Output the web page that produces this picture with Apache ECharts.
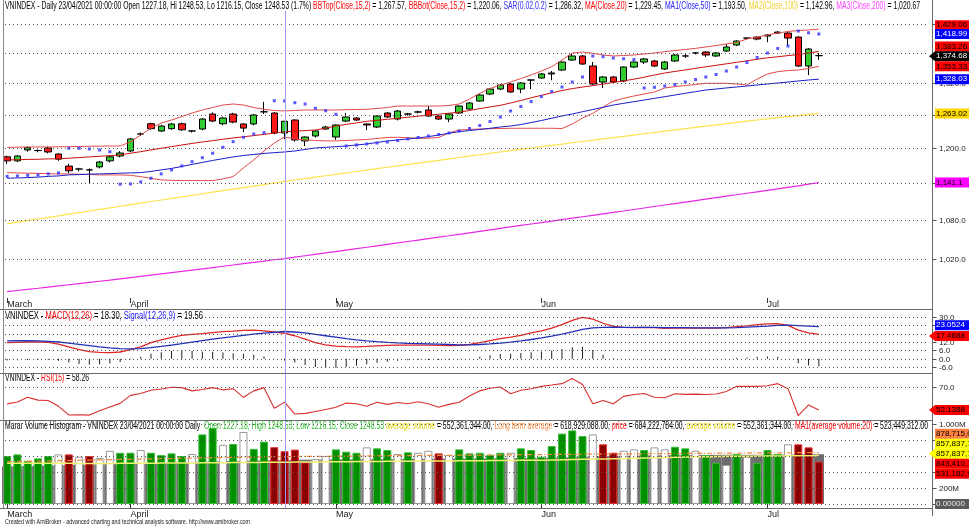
<!DOCTYPE html>
<html><head><meta charset="utf-8">
<script src="https://cdn.jsdelivr.net/npm/echarts@6.0.0/dist/echarts.min.js"></script>
<style>html,body{margin:0;padding:0;background:#fff}#c{width:969px;height:528px}</style>
</head><body><div id="c"></div>
<script>
// ---------------- DATA ----------------
const dates = ['2021-03-16','2021-03-17','2021-03-18','2021-03-19','2021-03-22','2021-03-23','2021-03-24','2021-03-25','2021-03-26','2021-03-29','2021-03-30','2021-03-31',
'2021-04-01','2021-04-02','2021-04-05','2021-04-06','2021-04-07','2021-04-08','2021-04-09','2021-04-12','2021-04-13','2021-04-14','2021-04-15','2021-04-16','2021-04-19','2021-04-20','2021-04-22','2021-04-23','2021-04-26','2021-04-27','2021-04-28','2021-04-29',
'2021-05-04','2021-05-05','2021-05-06','2021-05-07','2021-05-10','2021-05-11','2021-05-12','2021-05-13','2021-05-14','2021-05-17','2021-05-18','2021-05-19','2021-05-20','2021-05-21','2021-05-24','2021-05-25','2021-05-26','2021-05-27','2021-05-28','2021-05-31',
'2021-06-01','2021-06-02','2021-06-03','2021-06-04','2021-06-07','2021-06-08','2021-06-09','2021-06-10','2021-06-11','2021-06-14','2021-06-15','2021-06-16','2021-06-17','2021-06-18','2021-06-21','2021-06-22','2021-06-23','2021-06-24','2021-06-25','2021-06-28','2021-06-29','2021-06-30',
'2021-07-01','2021-07-02','2021-07-05','2021-07-06','2021-07-07','2021-07-08'];
const monthNames = {'03':'March','04':'April','05':'May','06':'Jun','07':'Jul'};

const opens = [1185,1178,1197,1196,1200.5,1190,1169,1164,1162.5,1167.6,
 1178,1186.5,1195.3,1225.4,1244,1230.7,1235,1244,1230.8,1234.4,
 1261.8,1244,1261.8,1243.5,1243.5,1265.9,1263.7,1227.18,1250.8,1213,
 1221.8,1234.4,1220,1248.9,1254.5,1243.5,1238,1263.7,1252.6,1261.8,
 1265.6,1269.3,1258.1,1252.6,1263.7,1271.1,1286.1,1299.4,1309,1318.6,
 1309,1326.4,1330.3,1338.2,1346,1365.9,1374,1353.9,1322.5,1332.3,
 1324.5,1351.9,1361.9,1363.9,1348,1363.9,1374,1380,1382,1374,
 1384,1396.3,1410.6,1412.7,1414.8,1423,1421,1412.7,1353.9,1374.68];
const closes = [1178,1186.5,1201,1196,1193.5,1181,1161,1164,1162.5,1176,
 1185,1191.7,1216.5,1225.4,1235,1239.8,1243.5,1233,1230.8,1252.6,
 1248.9,1254.5,1247,1236,1260,1265.9,1227.2,1248.53,1214.7,1220,
 1230.8,1238,1241.7,1256.3,1250.8,1241.7,1258.1,1256.3,1267.4,1261.8,
 1265.6,1258.1,1252.6,1261.8,1276.7,1282.4,1297.5,1309,1316.7,1303.3,
 1320.6,1326.4,1338.2,1340.2,1361.9,1374,1357.9,1318.6,1332.3,1322.5,
 1352,1361.9,1368,1353.9,1361.9,1376,1374,1380,1376,1380,
 1392.3,1404.5,1410.6,1408.6,1416.9,1421,1410.6,1353.9,1388.1,1374.68];
const lows = [1172.7,1176,1194,1193,1191,1178,1157,1160,1139,1165,
 1175,1184,1193,1222,1233,1229,1233,1231,1228,1232,
 1247,1241,1245,1229,1241,1261.8,1225,1216.15,1212,1204,
 1219,1233,1214.7,1247,1249,1232.6,1236,1255,1250,1259,
 1263,1257,1251,1247,1262,1270,1285,1298,1307,1302,
 1301,1309,1329,1326,1344,1364,1356,1317,1310.9,1321,
 1322,1350,1357.9,1352,1346,1362,1370,1377,1372,1372,
 1382,1394,1408,1406,1402,1419,1396,1352,1336,1366];
const highs = [1187,1188,1203,1198,1203,1191,1173,1166,1165,1178,
 1187,1195,1218,1228,1246,1242,1245,1246,1232,1254,
 1265,1257,1264,1245,1262,1284.5,1265,1248.53,1252,1221,
 1232,1240,1243,1263.7,1256,1245,1259,1265,1269,1264,
 1268,1276.7,1259,1263,1278,1284,1299,1311,1318,1320,
 1322,1327,1340,1344,1363,1380,1376,1361.9,1334,1334,
 1353,1363,1370,1366,1364,1378,1380,1382,1384,1382,
 1398,1406,1412,1414,1419,1425,1423,1414,1390,1380];

const bbTop = [1201.7,1201.9,1202.3,1202.3,1202.3,1202.6,1202.8,1203.2,1203.5,1203.7,
 1204.0,1204.0,1211.1,1223.6,1236.2,1245.3,1250.8,1257.2,1263.7,1269.3,
 1273.9,1278.6,1280.5,1278.6,1273.9,1270.6,1268.4,1267.57,1268.4,1269.3,
 1269.3,1269.3,1269.3,1269.9,1270.2,1270.6,1272.1,1273.9,1276.7,1276.7,
 1276.7,1276.7,1276.7,1277.7,1280.5,1289.9,1300.8,1310.0,1316.7,1322.5,
 1329.3,1336.2,1344.0,1352.5,1365.9,1380.0,1382.0,1379.4,1376.0,1374.0,
 1375.0,1376.0,1378.0,1380.0,1382.6,1385.1,1387.1,1389.5,1392.2,1395.3,
 1398.4,1401.4,1408.7,1412.7,1416.9,1421.1,1424.3,1426.3,1427.4,1429.06];
const bbBot = [1157.9,1157.4,1156.9,1156.6,1156.0,1155.7,1155.7,1155.2,1154.7,1154.0,
 1154.0,1154.0,1153.2,1151.1,1148.1,1145.6,1144.8,1144.4,1144.4,1144.4,
 1144.4,1147.3,1151.1,1165.9,1179.6,1195.2,1209.3,1220.06,1216.5,1214.7,
 1213.8,1213.0,1213.0,1213.8,1214.7,1215.6,1217.4,1219.2,1219.5,1218.6,
 1217.7,1217.7,1219.2,1227.2,1232.6,1233.5,1234.4,1235.0,1235.3,1235.7,
 1235.7,1235.7,1235.7,1235.7,1235.3,1243.5,1254.5,1263.1,1274.9,1286.1,
 1291.2,1295.6,1299.4,1303.3,1311.0,1313.5,1315.8,1317.7,1320.0,1320.0,
 1320.0,1318.6,1316.7,1328.3,1338.2,1342.7,1345.0,1346.0,1349.0,1353.33];
const sar = [1151.5,1152.3,1153.2,1154.0,1155.7,1157.4,
 1200.0,1200.0,1198.8,1197.0,1194.0,
 1138.4,1138.9,1142.2,1148.4,1155.7,1162.5,1169.3,1176.6,1183.5,1191.3,1201.7,1211.7,1219.5,1225.4,1227.8,
 1286.7,1286.32,1283.0,1280.5,1272.5,1268.0,1261.3,
 1204.0,1205.8,1207.6,1209.3,1211.1,1213.8,1216.5,1219.2,1221.8,1224.5,1227.2,1230.8,1235.3,1240.8,1248.1,1256.3,1267.4,1275.8,1285.1,1294.6,1304.2,1312.8,1322.5,1332.3,
 1374.0,1372.6,1369.9,1368.5,1366.9,
 1311.0,1312.4,1314.8,1317.7,1322.5,1327.4,1332.3,1337.2,1344.0,1351.9,1360.9,1370.9,1380.0,1389.1,1394.2,
 1425.2,1421.6,1418.99];
const ma20 = [1179.6,1180.0,1180.5,1180.8,1181.4,1181.7,1182.6,1183.7,1184.8,1186.0,
 1187.1,1188.3,1191.3,1194.0,1197.0,1200.0,1202.8,1205.8,1208.5,1211.1,
 1213.5,1216.0,1218.3,1220.4,1222.5,1224.7,1227.0,1229.45,1230.5,1231.5,
 1232.6,1235.9,1239.9,1242.8,1245.5,1248.4,1250.2,1252.1,1253.9,1255.9,
 1257.8,1259.6,1261.5,1263.4,1265.2,1268.4,1271.9,1275.0,1278.0,1282.4,
 1287.2,1292.4,1296.9,1301.5,1306.1,1309.8,1312.7,1315.5,1318.4,1321.7,
 1324.7,1328.0,1331.9,1336.2,1340.1,1343.2,1346.2,1349.4,1352.3,1355.3,
 1358.3,1361.3,1364.3,1367.5,1370.3,1372.4,1374.8,1376.8,1380.0,1383.26];
const ma50 = [1148.4,1148.9,1149.4,1150.3,1151.5,1152.3,1154.0,1154.5,1155.2,1155.7,
 1156.2,1156.9,1157.4,1157.9,1159.9,1162.5,1165.0,1168.4,1171.9,1175.3,
 1178.7,1181.8,1184.8,1187.4,1189.2,1190.9,1192.3,1193.5,1195.2,1197.9,
 1200.5,1201.7,1202.8,1204.0,1205.8,1207.6,1210.2,1212.9,1214.7,1216.5,
 1218.3,1220.6,1223.6,1226.7,1229.6,1231.7,1233.5,1235.7,1238.0,1239.9,
 1242.6,1246.2,1249.9,1254.0,1258.2,1261.9,1266.1,1270.2,1274.3,1278.6,
 1281.8,1284.8,1288.0,1291.2,1294.3,1297.5,1300.8,1303.9,1307.1,1309.0,
 1311.0,1312.9,1314.8,1316.7,1318.6,1320.6,1322.5,1324.5,1326.4,1328.03];
const ma100 = [1074.1,1076.6,1079.2,1081.7,1084.3,1086.8,1089.4,1091.9,1094.5,1097.0,
 1099.6,1102.1,1104.7,1107.2,1109.8,1112.3,1114.9,1117.4,1120.0,1122.5,
 1125.1,1127.6,1130.2,1132.7,1135.3,1137.8,1140.4,1142.96,1145.4,1147.8,
 1150.2,1152.6,1155.0,1157.4,1159.8,1162.2,1164.6,1167.0,1169.4,1171.8,
 1174.2,1176.6,1179.0,1181.4,1183.8,1186.2,1188.6,1191.0,1193.4,1195.8,
 1198.2,1200.5,1202.8,1205.1,1207.4,1209.7,1212.0,1214.3,1216.6,1218.9,
 1221.2,1223.5,1225.8,1228.1,1230.4,1232.7,1235.0,1237.3,1239.6,1241.9,
 1244.2,1246.4,1248.6,1250.8,1253.0,1255.0,1257.0,1259.0,1261.0,1263.02];
const ma200 = [972.4,974.0,975.6,977.2,978.9,980.5,982.2,983.9,985.6,987.3,
 989.0,990.8,992.6,994.4,996.2,998.0,999.8,1001.6,1003.5,1005.4,
 1007.3,1009.2,1011.1,1013.0,1014.9,1016.9,1018.9,1020.67,1022.8,1024.9,
 1027.0,1029.1,1031.2,1033.4,1035.6,1037.8,1040.0,1042.2,1044.4,1046.6,
 1048.8,1051.0,1053.2,1055.4,1057.7,1060.0,1062.3,1064.6,1066.9,1069.2,
 1071.5,1073.8,1076.1,1078.4,1080.7,1083.0,1085.3,1087.6,1089.9,1092.2,
 1094.5,1096.9,1099.3,1101.7,1104.1,1106.5,1108.9,1111.3,1113.7,1116.1,
 1118.5,1120.9,1123.3,1125.7,1128.1,1130.6,1133.1,1135.6,1138.4,1141.1];

const macd = [11.5,11.8,12,12,11.8,10.5,8.5,6.5,5,4.5,
 4.3,4.8,6.5,8.5,11.5,13.5,15.3,16.8,17.5,18,
 18.8,19.4,19.8,20.3,20.5,20,19.2,18.3,16.5,14,
 11.5,10,9,8.6,8.5,8.8,9.2,9.5,9.8,9.8,
 9.8,9.7,9.5,9.4,9.5,10.2,11.5,13,14.5,15.5,
 16.8,18.5,20,22,24.5,27.5,29.7,28.5,25.5,23.2,
 22.5,22.3,22.5,22.3,21.8,22,22.2,22,22,22,
 22.3,23,23.6,24.5,25,25.3,24,20.5,18.5,17.4688];
const macdSignal = [12.8,12.9,12.9,12.8,12.5,12,11.2,10.3,9.4,8.5,
 7.7,7.2,7,7.2,7.9,8.8,9.8,10.8,11.9,13,
 14,15,15.9,16.8,17.6,18.4,19,19.56,19.2,18.5,
 17.5,16.5,15.5,14.5,13.6,12.8,12.2,11.7,11.3,11,
 10.8,10.6,10.4,10.2,10,10,10.2,10.6,11.2,11.9,
 12.8,13.8,14.9,16.2,17.6,19.3,21.1,22.2,22.6,22.7,
 22.6,22.5,22.5,22.5,22.4,22.3,22.3,22.2,22.2,22.2,
 22.2,22.4,22.7,23.1,23.5,24,24.1,23.8,23.5,23.0524];
const macdHist = [-1.3,-1.1,-0.9,-0.8,-0.7,-1.5,-2.7,-3.8,-4.4,-4.0,
 -3.4,-2.4,-0.5,1.3,3.6,4.7,5.5,6.0,5.6,5.0,
 4.8,4.4,3.9,3.5,2.9,1.6,0.2,-1.26,-2.7,-4.5,
 -6.0,-6.5,-6.5,-5.9,-5.1,-4.0,-3.0,-2.2,-1.5,-1.2,
 -1.0,-0.9,-0.9,-0.8,-0.5,0.2,1.3,2.4,3.3,3.6,
 4.0,4.7,5.1,5.8,6.9,8.2,8.6,6.3,2.9,0.5,
 -0.1,-0.2,0,-0.2,-0.6,-0.3,-0.1,-0.2,-0.2,-0.2,
 0.1,0.6,0.9,1.4,1.5,1.3,-0.1,-3.3,-5.0,-5.58];
const rsi = [56.9,58.3,62,59.8,59.5,55,48.3,48.5,48.2,51.6,
 54.5,57.3,63.5,65,67.5,68.5,69.8,69.5,67,68,
 69.5,67.8,68.7,62,67,69.5,53.5,58.26,49,49.5,
 51,52.5,54.3,57.5,57,55,58.2,56.5,58,57,
 58.5,57,54.3,56.5,58.2,63,67,69,70,64.8,
 67.5,68.7,70.5,71.5,72.6,76.6,72,57,59.5,57,
 62.7,64.2,65,62,61.6,64.8,64.3,64.5,64.2,64.6,
 66.5,70.5,70.5,70.5,71,72.6,68.7,47.7,56.1,52.1388];

// volume in millions
const volume = [600,620,540,570,600,620,620,590,600,575,665,640,
 641,675,641,612,633,600,625,870,950,740,750,900,690,780,710,660,680,520,560,600,
 683,654,641,708,696,675,625,646,641,666,633,612,683,633,641,612,641,641,696,675,
 591,725,880,920,850,870,746,641,666,683,675,708,683,716,696,666,612,516,487,625,
 591,516,675,625,746,746,708,531];
const volColor = ('gggggwrwrwwg' + 'gwggggwggwgwggrrrrww' +
 'gggwggwgwwrwgggggwgggggggwrrwwgwwggwggwgwgggwrrr').split('');
const avgVolume = [470,473,476,479,482,485,488,491,494,497,500,503,506,509,512,515,518,521,524,527,530,533,536,539,542,545,548,552,
 553,554,555,556,557,558,559,560,561,562,563,564,565,566,567,568,569,570,571,572,573,574,575,576,577,
 579,582,586,590,594,597,600,602,604,606,608,610,611,612,613,614,614,615,615,615,615,615,616,617,619,621,622];
const avgVolumeMA = [510,510,509,509,508,508,508,507,507,507,507,508,508,509,510,511,512,513,514,515,516,517,518,519,520,521,522,523,
 524,525,526,527,528,529,530,531,532,533,534,535,536,537,538,539,540,541,542,543,544,545,546,547,548,
 550,552,555,558,561,564,567,570,573,576,579,582,585,588,590,592,594,596,597,598,599,600,601,602,603,604,605];
const longTermAvg = [530,532,534,537,539,542,544,547,549,552,554,557,559,562,564,567,569,572,574,577,579,581,583,585,587,589,591,593,
 594,595,596,597,598,599,600,601,602,603,604,605,606,607,608,609,610,611,612,613,614,615,616,617,618,619,620,621,622,623,
 624,625,626,627,628,629,630,631,632,633,634,635,636,637,638,639,639.5,640,640.5,641,641.5,642];

const priceTicks = [1020,1080,1140,1200,1260,1320,1380,1440];
const macdTicks = [30,24,18,12,6,0,-6];
const rsiTicks = [70];
const volTicks = [0,200,400,600,800,1000];
const volTickLabels = ['','200M','400M','600M','800M','1.000M'];

// ---------------- CHART ----------------
const FONT = '"Liberation Sans", Arial, sans-serif';
const PAD = 11;
const cats = dates.concat(Array.from({length: PAD}, (_, i) => '~' + i));
const monthStart = (i) => i < dates.length && (i === 0 || dates[i].slice(5, 7) !== dates[i - 1].slice(5, 7));

function mkX(g, show) {
  return {
    type: 'category', gridIndex: g, data: cats, boundaryGap: true, show: show,
    axisLine: {show: false},
    axisTick: {show: true, interval: monthStart, alignWithLabel: true, length: 5, lineStyle: {color: '#333'}},
    axisLabel: {interval: monthStart, formatter: v => monthNames[v.slice(5, 7)] || '', align: 'left',
      margin: 2, fontSize: 9, color: '#222', fontFamily: FONT},
    splitLine: {show: false}
  };
}
const volStyles = {
  g: {color: '#009000', borderColor: '#3cbc3c', borderWidth: 1},
  r: {color: '#8b0000', borderColor: '#e83030', borderWidth: 1},
  w: {color: '#ffffff', borderColor: '#9a9a9a', borderWidth: 1}
};
const lineS = (name, data, color, w, extra) => Object.assign({
  type: 'line', name, data, xAxisIndex: 0, yAxisIndex: 0, showSymbol: false, symbol: 'none',
  lineStyle: {color, width: w}, itemStyle: {color}, z: 3
}, extra || {});

const option = {
  animation: false,
  backgroundColor: '#ffffff',
  textStyle: {fontFamily: FONT},
  grid: [
    {left: 2, top: 10, width: 935, height: 288},
    {left: 2, top: 310, width: 935, height: 63},
    {left: 2, top: 374, width: 935, height: 46},
    {left: 2, top: 421, width: 935, height: 87}
  ],
  xAxis: [mkX(0, true), mkX(1, false), mkX(2, false), mkX(3, true), mkX(3, false)],
  yAxis: [
    {gridIndex: 0, type: 'log', logBase: 10, min: 963.3, max: 1469.9, show: false},
    {gridIndex: 1, type: 'value', min: -10.32, max: 35.04, show: false},
    {gridIndex: 2, type: 'value', min: 44.38, max: 80.09, show: false},
    {gridIndex: 3, type: 'value', min: -50, max: 1037.5, show: false}
  ],
  series: [
    {type: 'candlestick', name: 'VNINDEX', xAxisIndex: 0, yAxisIndex: 0, barWidth: 7, z: 2,
      data: opens.map((o, i) => [o, closes[i], lows[i], highs[i]]),
      itemStyle: {color: '#33cc33', color0: '#ff1a1a', borderColor: '#000', borderColor0: '#000',
        borderColorDoji: '#000', borderWidth: 1}},
    lineS('BBTop', bbTop, '#e24a4a', 1),
    lineS('BBBot', bbBot, '#e24a4a', 1),
    lineS('MA20', ma20, '#cc1010', 1),
    lineS('MA50', ma50, '#1c1cc8', 1),
    lineS('MA100', ma100, '#ffe24a', 1.2),
    lineS('MA200', ma200, '#e628e6', 1.2),
    {type: 'scatter', name: 'SAR', data: sar, xAxisIndex: 0, yAxisIndex: 0, symbol: 'rect', symbolSize: 3,
      itemStyle: {color: '#2f2fff'}, z: 4},
    // MACD
    {type: 'bar', name: 'hist', data: macdHist, xAxisIndex: 1, yAxisIndex: 1, barWidth: 1, itemStyle: {color: '#222'}},
    {type: 'line', name: 'MACD', data: macd, xAxisIndex: 1, yAxisIndex: 1, symbol: 'none', lineStyle: {color: '#e02828', width: 1.3}},
    {type: 'line', name: 'Signal', data: macdSignal, xAxisIndex: 1, yAxisIndex: 1, symbol: 'none', lineStyle: {color: '#2030b8', width: 1.3}},
    // RSI
    {type: 'line', name: 'RSI', data: rsi, xAxisIndex: 2, yAxisIndex: 2, symbol: 'none', lineStyle: {color: '#d83030', width: 1.1}},
    // Volume
    {type: 'bar', name: 'avgvol', data: avgVolume, xAxisIndex: 4, yAxisIndex: 3, barWidth: '100%', itemStyle: {color: '#6e6e6e'}, z: 1},
    {type: 'bar', name: 'volume', xAxisIndex: 3, yAxisIndex: 3, barWidth: 8, z: 2,
      data: volume.map((v, i) => ({value: v, itemStyle: volStyles[volColor[i]]}))},
    {type: 'line', name: 'avgvolMA', data: avgVolumeMA, xAxisIndex: 3, yAxisIndex: 3, symbol: 'none', step: 'middle',
      lineStyle: {color: '#f4f070', width: 1.5}, z: 3},
    {type: 'line', name: 'longterm', data: longTermAvg, xAxisIndex: 3, yAxisIndex: 3, symbol: 'none',
      lineStyle: {color: '#f08a3c', width: 1.2, type: [5, 2, 1, 2]}, z: 3}
  ]
};

const chart = echarts.init(document.getElementById('c'), null, {renderer: 'canvas'});
chart.setOption(option);

// ---------------- overlays: titles, right axis, value tags ----------------
const ctx = document.createElement('canvas').getContext('2d');
function measure(t, font) { ctx.font = font; return ctx.measureText(t).width; }
function title(segs, x0, yc, targetW, size) {
  const font = size + 'px ' + FONT;
  const full = segs.map(s => s[0]).join('');
  const s = targetW / measure(full, font);
  let cx = 0; const children = [];
  segs.forEach(([t, c]) => {
    children.push({type: 'text', x: cx, y: 0, style: {text: t, fill: c, font, align: 'left', verticalAlign: 'middle'}});
    cx += measure(t, font);
  });
  return {type: 'group', x: x0, y: yc, scaleX: s, z: 50, children};
}
const f2 = v => v.toLocaleString('en-US', {minimumFractionDigits: 2, maximumFractionDigits: 2});
const K = 27; // cursor bar (23/04/2021)
const chg = ((closes[K] / closes[K - 1] - 1) * 100).toFixed(1);

const g = [];
const py = (ax, v) => chart.convertToPixel({yAxisIndex: ax}, v);
const cx = chart.convertToPixel({xAxisIndex: 0}, dates[K]);
const AX = 932.5;

// borders / separators
[309.5, 373.5, 420.5, 508.5].forEach(y => g.push({type: 'line', shape: {x1: 0, y1: y, x2: AX, y2: y}, style: {stroke: '#6a6a6a', lineWidth: 1}, z: 20}));
g.push({type: 'line', shape: {x1: 3.5, y1: 0, x2: 3.5, y2: 508}, style: {stroke: '#8a8a8a', lineWidth: 1}, z: 20});
g.push({type: 'line', shape: {x1: AX, y1: 0, x2: AX, y2: 516}, style: {stroke: '#6a6a6a', lineWidth: 1}, z: 20});
// cursor
g.push({type: 'line', shape: {x1: Math.round(cx) + 0.5, y1: 11, x2: Math.round(cx) + 0.5, y2: 508}, style: {stroke: '#9c9cff', lineWidth: 1}, z: 15});

// grid dotted lines and right labels
function axisLabels(ax, ticks, labels) {
  ticks.forEach((v, i) => {
    const y = Math.round(py(ax, v)) + 0.5;
    g.push({type: 'line', shape: {x1: 5, y1: y, x2: 926, y2: y}, style: {stroke: '#555', lineWidth: 1, lineDash: [1, 3]}, z: 10});
    g.push({type: 'line', shape: {x1: AX, y1: y, x2: AX + 4, y2: y}, style: {stroke: '#555', lineWidth: 1}, z: 20});
    if (labels[i]) g.push({type: 'text', x: 939, y: y, style: {text: labels[i], fill: '#222', font: '8px ' + FONT, align: 'left', verticalAlign: 'middle'}, z: 21});
  });
}
axisLabels(0, priceTicks, priceTicks.map(v => v.toLocaleString('en-US', {minimumFractionDigits: 1})));
axisLabels(1, macdTicks, macdTicks.map(v => v.toFixed(1)));
axisLabels(2, rsiTicks, rsiTicks.map(v => v.toFixed(1)));
axisLabels(3, volTicks, volTickLabels);

function tag(y, text, bg, fg, arrow) {
  g.push({type: 'rect', shape: {x: 935, y: y - 5, width: 40, height: 10}, style: {fill: bg}, z: 30});
  if (arrow) g.push({type: 'polygon', shape: {points: [[929, y], [935, y - 5], [935, y + 5]]}, style: {fill: bg}, z: 30});
  g.push({type: 'text', x: 936, y: y, style: {text, fill: fg, font: '8px ' + FONT, align: 'left', verticalAlign: 'middle'}, z: 31});
}
const L = dates.length - 1;
// main pane tags [value, text, bg, fg, arrow, nudge]
[[bbTop[L], '1,429.06', '#ff0000', '#000', false, -4],
 [sar[L], '1,418.99', '#0000ff', '#fff', false, 0],
 [ma20[L], '1,383.26', '#ff0000', '#000', false, -5],
 [closes[L], '1,374.68', '#000000', '#fff', true, 0.5],
 [bbBot[L], '1,353.33', '#ff0000', '#000', false, 0],
 [ma50[L], '1,328.03', '#0000ff', '#fff', false, 0],
 [ma100[L], '1,263.02', '#ffd800', '#000', false, 0],
 [ma200[L], '1,141.1', '#ff00ff', '#000', false, 0]
].forEach(t => tag(py(0, t[0]) + t[5], t[1], t[2], t[3], t[4]));
tag(py(1, macdSignal[L]) - 1.5, '23.0524', '#0000ff', '#fff', false);
tag(py(1, macd[L]) + 1.5, '17.4688', '#ff0000', '#000', true);
tag(py(2, rsi[L]), '52.1388', '#ff0000', '#000', true);
// volume pane tags, stacked downward like the original
let prev = -100;
[[878.715, '878,715,008.00', '#ff8040', '#000', false],
 [857.838, '857,837,760.00', '#ffff00', '#000', false],
 [857.838, '857,837,760.00', '#ffff00', '#000', true],
 [843.410, '843,410,112.00', '#ff0000', '#000', false],
 [volume[L], '531,182,944.00', '#ff0000', '#000', false]
].forEach(t => { let y = Math.max(py(3, t[0]), prev + 10); prev = y; tag(y, t[1], t[2], t[3], t[4]); });
tag(py(3, 0), '0.00000', '#5a5a5a', '#e8e8e8', false);

// titles
g.push(title([
  ['VNINDEX - Daily 23/04/2021 00:00:00 Open ' + opens[K] + ', Hi ' + highs[K] + ', Lo ' + lows[K] + ', Close ' + closes[K] + ' (' + chg + '%) ', '#000'],
  ['BBTop(Close,15,2)', '#ff0000'], [' = ' + f2(bbTop[K]) + ', ', '#000'],
  ['BBBot(Close,15,2)', '#ff0000'], [' = ' + f2(bbBot[K]) + ', ', '#000'],
  ['SAR(0.02,0.2)', '#3030ff'], [' = ' + f2(sar[K]) + ', ', '#000'],
  ['MA(Close,20)', '#ff0000'], [' = ' + f2(ma20[K]) + ', ', '#000'],
  ['MA1(Close,50)', '#2020ff'], [' = ' + f2(ma50[K]) + ', ', '#000'],
  ['MA2(Close,100)', '#f2cf30'], [' = ' + f2(ma100[K]) + ', ', '#000'],
  ['MA3(Close,200)', '#ff40ff'], [' = ' + f2(ma200[K]), '#000']
], 5, 6, 915, 10));
g.push(title([['VNINDEX - ', '#000'], ['MACD(12,26)', '#ff0000'], [' = ' + macd[K].toFixed(2) + ', ', '#000'],
  ['Signal(12,26,9)', '#2020ff'], [' = ' + macdSignal[K].toFixed(2), '#000']], 5, 316, 198, 10));
g.push(title([['VNINDEX - ', '#000'], ['RSI(15)', '#ff0000'], [' = ' + rsi[K].toFixed(2), '#000']], 5, 378, 84, 10));
g.push(title([
  ['Marar Volume Histogram - VNINDEX 23/04/2021 00:00:00 Daily  ', '#000'],
  ['Open ' + opens[K] + ', High ' + highs[K] + ', Low ' + lows[K] + ', Close ' + closes[K] + ' ', '#2ebd2e'],
  ['average volume', '#e0d000'], [' = 552,361,344.00, ', '#000'],
  ['Long term average', '#f08a3c'], [' = 618,929,088.00, ', '#000'],
  ['price', '#ff0000'], [' = 684,222,784.00, ', '#000'],
  ['average volume', '#e0d000'], [' = 552,361,344.00, ', '#000'],
  ['MA1(average volume,20)', '#ff0000'], [' = 523,449,312.00', '#000']
], 5, 426, 923, 10));
g.push(title([['Created with AmiBroker - advanced charting and technical analysis software. http://www.amibroker.com', '#222']], 5, 522, 245, 8));

chart.setOption({graphic: g});
</script>
</body></html>
